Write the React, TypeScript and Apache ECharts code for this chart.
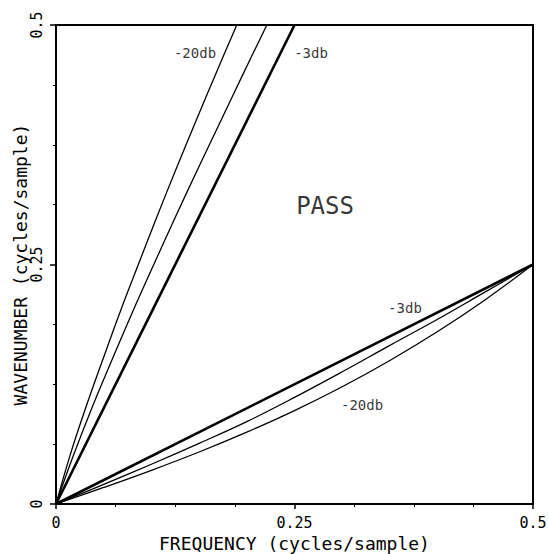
import React, { useEffect, useRef } from "react";
import * as echarts from "echarts";

// Upper (steep) family: wavenumber samples and frequency for each curve
const upperK = [0, 0.05, 0.1, 0.15, 0.2, 0.25, 0.3, 0.35, 0.4, 0.45, 0.5];
const upperF20 = [0, 0.0145, 0.031, 0.0488, 0.067, 0.0863, 0.1059, 0.126, 0.1468, 0.1679, 0.1895];
const upperFMid = [0, 0.018, 0.0375, 0.0585, 0.08, 0.1025, 0.1254, 0.1488, 0.1728, 0.1967, 0.221];
const upperF3 = [0, 0.25];
const upperK3 = [0, 0.5];

// Lower (shallow) family: frequency samples and wavenumber for each curve
const lowerF = [0, 0.05, 0.1, 0.15, 0.2, 0.25, 0.3, 0.35, 0.4, 0.45, 0.5];
const lowerK20 = [0, 0.01725, 0.0352, 0.0543, 0.075, 0.0975, 0.1224, 0.1498, 0.18, 0.2133, 0.25];
const lowerKMid = [0, 0.0205, 0.0415, 0.0633, 0.086, 0.1113, 0.138, 0.1656, 0.1928, 0.2214, 0.25];
const lowerF3 = [0, 0.5];
const lowerK3 = [0, 0.25];

// Annotations
const labelTexts = ["-20db", "-3db", "-3db", "-20db", "PASS"];
const labelF = [0.1457, 0.2673, 0.3658, 0.3208, 0.282];
const labelK = [0.4708, 0.4708, 0.2046, 0.1033, 0.311];
const labelSizes = [14, 14, 14, 14, 24];

const xTicks = [0, 0.25, 0.5];
const yTicks = [0, 0.25, 0.5];

const FONT = "DejaVu Sans Mono";

function pairs(xs: number[], ys: number[]) {
  return xs.map((x, i) => [x, ys[i]]);
}

export default function App() {
  const ref = useRef<HTMLDivElement>(null);
  useEffect(() => {
    if (!ref.current) return;
    const chart = echarts.init(ref.current, null, { renderer: "svg" });
    const thin = { color: "#000", width: 1.3 };
    const thick = { color: "#000", width: 2.6 };
    const lineSeries = (data: number[][], style: any) => ({
      type: "line",
      data,
      smooth: 0.4,
      symbol: "none",
      lineStyle: style,
      silent: true,
    });
    chart.setOption({
      animation: false,
      backgroundColor: "#fff",
      grid: {
        left: 56,
        right: 16,
        top: 25,
        bottom: 50,
        outerBoundsMode: "none",
        containLabel: false,
        show: true,
        borderColor: "#000",
        borderWidth: 2,
      },
      xAxis: {
        type: "value",
        min: 0,
        max: 0.5,
        interval: 0.25,
        name: "FREQUENCY (cycles/sample)",
        nameLocation: "middle",
        nameGap: 30,
        nameMoveOverlap: false,
        nameTextStyle: { fontFamily: FONT, fontSize: 18, color: "#000" },
        axisLine: { lineStyle: { color: "#000", width: 2 } },
        axisTick: { show: true, length: 5, lineStyle: { color: "#000", width: 1.5 } },
        minorTick: { show: true, splitNumber: 4, length: 3, lineStyle: { color: "#000", width: 1 } },
        splitLine: { show: false },
        axisLabel: {
          fontFamily: FONT,
          fontSize: 15,
          color: "#000",
          margin: 11,
          formatter: (v: number) => (xTicks.includes(v) ? String(v) : ""),
        },
      },
      yAxis: {
        type: "value",
        min: 0,
        max: 0.5,
        interval: 0.25,
        name: "WAVENUMBER (cycles/sample)",
        nameLocation: "middle",
        nameGap: 27,
        nameMoveOverlap: false,
        nameTextStyle: { fontFamily: FONT, fontSize: 18, color: "#000" },
        axisLine: { lineStyle: { color: "#000", width: 2 } },
        axisTick: { show: true, length: 6, lineStyle: { color: "#000", width: 1.5 } },
        minorTick: { show: true, splitNumber: 4, length: 3, lineStyle: { color: "#000", width: 1 } },
        splitLine: { show: false },
        axisLabel: {
          fontFamily: FONT,
          fontSize: 15,
          color: "#000",
          rotate: 90,
          margin: 12,
          formatter: (v: number) => (yTicks.includes(v) ? String(v) : ""),
        },
      },
      series: [
        lineSeries(pairs(upperF20, upperK), thin),
        lineSeries(pairs(upperFMid, upperK), thin),
        lineSeries(pairs(upperF3, upperK3), thick),
        lineSeries(pairs(lowerF, lowerK20), thin),
        lineSeries(pairs(lowerF, lowerKMid), thin),
        lineSeries(pairs(lowerF3, lowerK3), thick),
        {
          type: "scatter",
          symbolSize: 0,
          silent: true,
          data: labelTexts.map((t, i) => ({
            name: t,
            value: [labelF[i], labelK[i]],
            label: { fontSize: labelSizes[i] },
          })),
          label: {
            show: true,
            position: "inside",
            formatter: (p: any) => p.name,
            fontFamily: FONT,
            color: "#000",
          },
        },
      ],
    });
    return () => chart.dispose();
  }, []);
  return (
    <div
      ref={ref}
      style={{ position: "fixed", left: 0, top: 0, width: 549, height: 554 }}
    />
  );
}
